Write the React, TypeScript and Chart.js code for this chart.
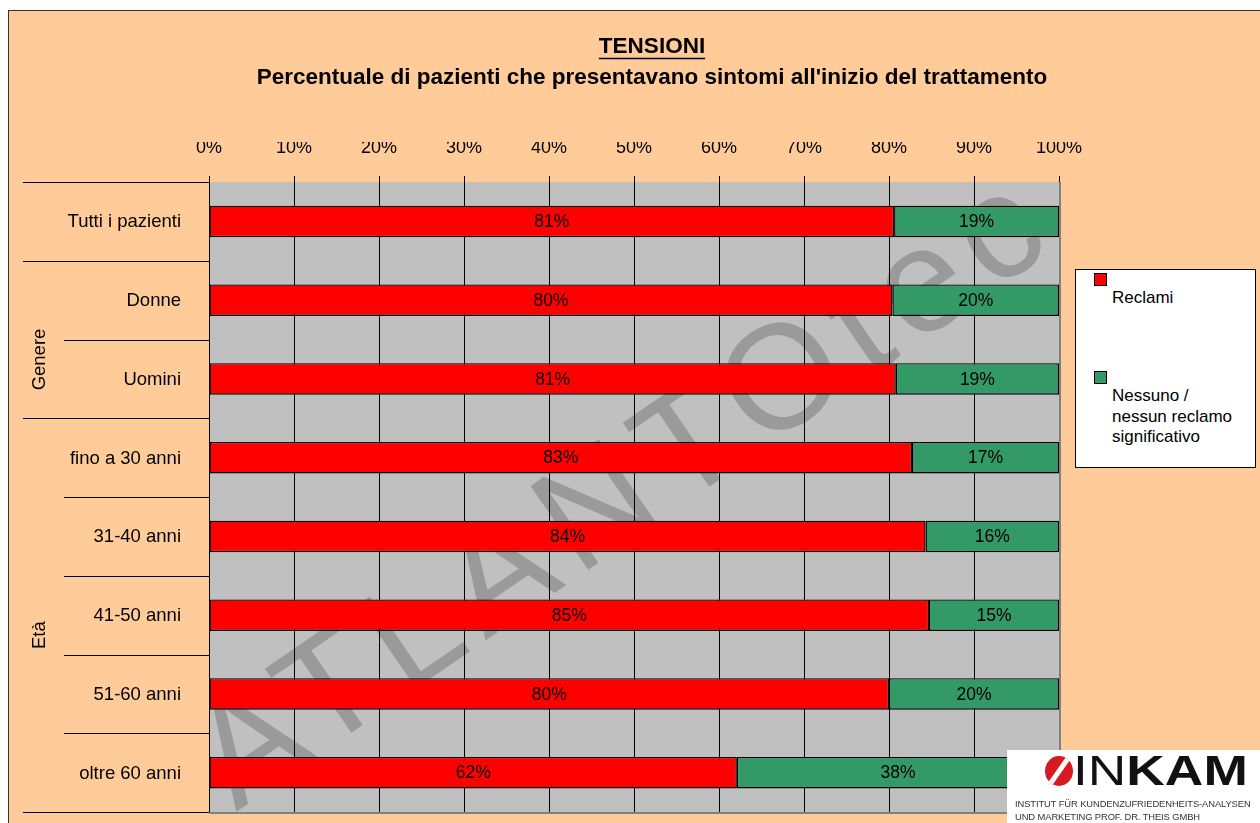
import React, { useEffect, useRef } from "react";
import { Chart, registerables } from "chart.js";

Chart.register(...registerables);

// ---- data ----
const categories = [
  "Tutti i pazienti",
  "Donne",
  "Uomini",
  "fino a 30 anni",
  "31-40 anni",
  "41-50 anni",
  "51-60 anni",
  "oltre 60 anni",
];
const reclami = [80.6, 80.4, 80.8, 82.7, 84.3, 84.7, 80.0, 62.1];
const nessuno = [19.4, 19.6, 19.2, 17.3, 15.7, 15.3, 20.0, 37.9];
const seriesNames = ["Reclami", "Nessuno /\nnessun reclamo\nsignificativo"];
const seriesColors = ["#FF0000", "#339966"];
const groupNames = ["Genere", "Età"];
const groupStart = [1, 3];
const groupEnd = [2, 7];
const titleMain = "TENSIONI";
const titleSub = "Percentuale di pazienti che presentavano sintomi all'inizio del trattamento";
const watermarkText = "ATLANTOtec";
const logoLines = ["INSTITUT FÜR KUNDENZUFRIEDENHEITS-ANALYSEN", "UND MARKETING PROF. DR. THEIS GMBH"];

const FONT = '"Liberation Sans", Arial, Helvetica, sans-serif';

const backgroundPlugin = {
  id: "plotBackground",
  beforeDraw(chart: any) {
    const { ctx, chartArea } = chart;
    const { left, top, right, bottom } = chartArea;
    ctx.save();
    ctx.fillStyle = "#C0C0C0";
    ctx.fillRect(left, top, right - left, bottom - top);
    ctx.beginPath();
    ctx.rect(left, top, right - left, bottom - top);
    ctx.clip();
    ctx.translate(236, 812);
    ctx.rotate((-34.5 * Math.PI) / 180);
    ctx.font = `148px ${FONT}`;
    (ctx as any).letterSpacing = "14px";
    ctx.fillStyle = "#9a9a9a";
    ctx.textBaseline = "alphabetic";
    ctx.textAlign = "left";
    ctx.fillText(watermarkText, 0, 0);
    ctx.restore();
  },
};

const valueLabelPlugin = {
  id: "valueLabels",
  afterDatasetsDraw(chart: any) {
    const { ctx } = chart;
    ctx.save();
    ctx.font = `17.5px ${FONT}`;
    ctx.fillStyle = "#000";
    ctx.textAlign = "center";
    ctx.textBaseline = "middle";
    chart.data.datasets.forEach((ds: any, i: number) => {
      const meta = chart.getDatasetMeta(i);
      meta.data.forEach((bar: any, j: number) => {
        const p = bar.getProps(["x", "y", "base"], true);
        ctx.fillText(Math.round(ds.data[j]) + "%", (p.x + p.base) / 2, p.y + 1);
      });
    });
    ctx.restore();
  },
};

const decorPlugin = {
  id: "decor",
  afterDraw(chart: any) {
    const { ctx, chartArea } = chart;
    const { left, top, right, bottom } = chartArea;
    const yScale = chart.scales.y;
    ctx.save();
    // plot shadow border
    ctx.strokeStyle = "#808080";
    ctx.lineWidth = 2;
    ctx.beginPath();
    ctx.moveTo(right + 1, top);
    ctx.lineTo(right + 1, bottom + 1);
    ctx.lineTo(left, bottom + 1);
    ctx.stroke();

    // category separators
    const n = categories.length;
    const groupOf = (idx: number) => {
      for (let g = 0; g < groupNames.length; g++) {
        if (idx >= groupStart[g] && idx <= groupEnd[g]) return g;
      }
      return -1;
    };
    ctx.strokeStyle = "#000";
    ctx.lineWidth = 1;
    for (let b = 0; b <= n; b++) {
      const yp = Math.round(yScale.getPixelForValue(b - 0.5)) + 0.5;
      const inner = b > 0 && b < n && groupOf(b - 1) !== -1 && groupOf(b - 1) === groupOf(b);
      ctx.beginPath();
      ctx.moveTo(inner ? 64 : 23, yp);
      ctx.lineTo(left, yp);
      ctx.stroke();
    }

    // category labels
    ctx.font = `18.5px ${FONT}`;
    ctx.fillStyle = "#000";
    ctx.textAlign = "right";
    ctx.textBaseline = "middle";
    categories.forEach((c, i) => {
      ctx.fillText(c, left - 28, yScale.getPixelForValue(i) + 1);
    });

    // group labels
    ctx.textAlign = "center";
    for (let g = 0; g < groupNames.length; g++) {
      const y0 = yScale.getPixelForValue(groupStart[g] - 0.5);
      const y1 = yScale.getPixelForValue(groupEnd[g] + 0.5);
      ctx.save();
      ctx.translate(40, (y0 + y1) / 2 + 20);
      ctx.rotate(-Math.PI / 2);
      ctx.fillText(groupNames[g], 0, 0);
      ctx.restore();
    }

    // titles
    ctx.font = `bold 22.5px ${FONT}`;
    ctx.textAlign = "center";
    ctx.textBaseline = "middle";
    ctx.fillText(titleMain, 652, 47);
    const w = ctx.measureText(titleMain).width;
    ctx.lineWidth = 1.6;
    ctx.beginPath();
    ctx.moveTo(652 - w / 2, 58.5);
    ctx.lineTo(652 + w / 2, 58.5);
    ctx.stroke();
    ctx.fillText(titleSub, 652, 78);
    ctx.restore();
  },
};

const App = () => {
  const canvasRef = useRef<HTMLCanvasElement>(null);

  useEffect(() => {
    const canvas = canvasRef.current;
    if (!canvas) return;
    const chart = new Chart(canvas, {
      type: "bar",
      data: {
        labels: categories,
        datasets: [
          {
            label: seriesNames[0],
            data: reclami,
            backgroundColor: seriesColors[0],
            borderColor: "#000",
            borderWidth: 1.4,
            borderSkipped: false,
            barPercentage: 0.4,
            categoryPercentage: 1,
          },
          {
            label: seriesNames[1],
            data: nessuno,
            backgroundColor: seriesColors[1],
            borderColor: "#000",
            borderWidth: 1.4,
            borderSkipped: false,
            barPercentage: 0.4,
            categoryPercentage: 1,
          },
        ],
      },
      options: {
        indexAxis: "y",
        responsive: false,
        animation: false,
        devicePixelRatio: 1,
        layout: { padding: { left: 20, right: 201, top: 142, bottom: 11 } },
        plugins: {
          legend: { display: false },
          title: { display: false },
          tooltip: { enabled: false },
        },
        scales: {
          x: {
            position: "top",
            stacked: true,
            min: 0,
            max: 100,
            afterFit: (scale: any) => {
              scale.height = 40;
            },
            ticks: {
              stepSize: 10,
              autoSkip: false,
              maxRotation: 0,
              padding: 17,
              color: "#000",
              font: { family: FONT, size: 18 },
              callback: (v: any) => v + "%",
            },
            grid: {
              color: "#000",
              lineWidth: 1,
              drawTicks: true,
              tickLength: 6,
              tickColor: "#000",
            },
            border: { display: false },
          },
          y: {
            stacked: true,
            afterFit: (scale: any) => {
              scale.width = 189;
            },
            ticks: { display: false },
            grid: { display: false, drawTicks: false },
            border: { display: false },
          },
        },
      },
      plugins: [backgroundPlugin, valueLabelPlugin, decorPlugin],
    } as any);
    return () => chart.destroy();
  }, []);

  return (
    <div
      style={{
        position: "fixed",
        left: 0,
        top: 0,
        width: 1260,
        height: 823,
        overflow: "hidden",
        background: "#fff",
        fontFamily: FONT,
      }}
    >
      <div
        style={{
          position: "absolute",
          left: 8,
          top: 10,
          width: 1330,
          height: 900,
          background: "#FFCC99",
          border: "1px solid #333",
          boxSizing: "border-box",
        }}
      />
      <canvas
        ref={canvasRef}
        width={1260}
        height={823}
        style={{ position: "absolute", left: 0, top: 0, width: 1260, height: 823 }}
      />
      <div
        style={{
          position: "absolute",
          left: 1075,
          top: 269,
          width: 181,
          height: 199,
          background: "#fff",
          border: "1px solid #000",
          boxSizing: "border-box",
        }}
      >
        {seriesNames.map((name, i) => (
          <div key={name} style={{ position: "absolute", left: 0, top: i === 0 ? 3 : 101 }}>
            <div
              style={{
                position: "absolute",
                left: 18,
                top: 0,
                width: 13,
                height: 13,
                background: seriesColors[i],
                border: "1px solid #000",
                boxSizing: "border-box",
              }}
            />
            <div
              style={{
                position: "absolute",
                left: 36,
                top: 15,
                width: 140,
                fontSize: 17,
                lineHeight: "20.5px",
                whiteSpace: "pre",
                color: "#000",
              }}
            >
              {name}
            </div>
          </div>
        ))}
      </div>
      <div
        style={{
          position: "absolute",
          left: 1007,
          top: 750,
          width: 260,
          height: 80,
          background: "#fff",
        }}
      >
        <div
          style={{
            position: "absolute",
            left: 38,
            top: 6,
            width: 28,
            height: 30,
            borderRadius: "50%",
            background: "#d71920",
            overflow: "hidden",
          }}
        >
          <div
            style={{
              position: "absolute",
              left: 11,
              top: -4,
              width: 5,
              height: 40,
              background: "#fff",
              transform: "rotate(35deg)",
            }}
          />
        </div>
        <div
          style={{
            position: "absolute",
            left: 66,
            top: 0,
            fontSize: 42,
            lineHeight: "42px",
            color: "#111",
            transform: "scaleX(1.27)",
            transformOrigin: "left top",
            whiteSpace: "nowrap",
          }}
        >
          <span style={{ fontWeight: 300 }}>IN</span>
          <span style={{ fontWeight: 700 }}>KAM</span>
        </div>
        {logoLines.map((line, i) => (
          <div
            key={line}
            style={{
              position: "absolute",
              left: 8,
              top: 48 + i * 13,
              fontSize: 9.4,
              lineHeight: "11px",
              color: "#333",
              whiteSpace: "nowrap",
              letterSpacing: "-0.1px",
            }}
          >
            {line}
          </div>
        ))}
      </div>
    </div>
  );
};

export default App;
